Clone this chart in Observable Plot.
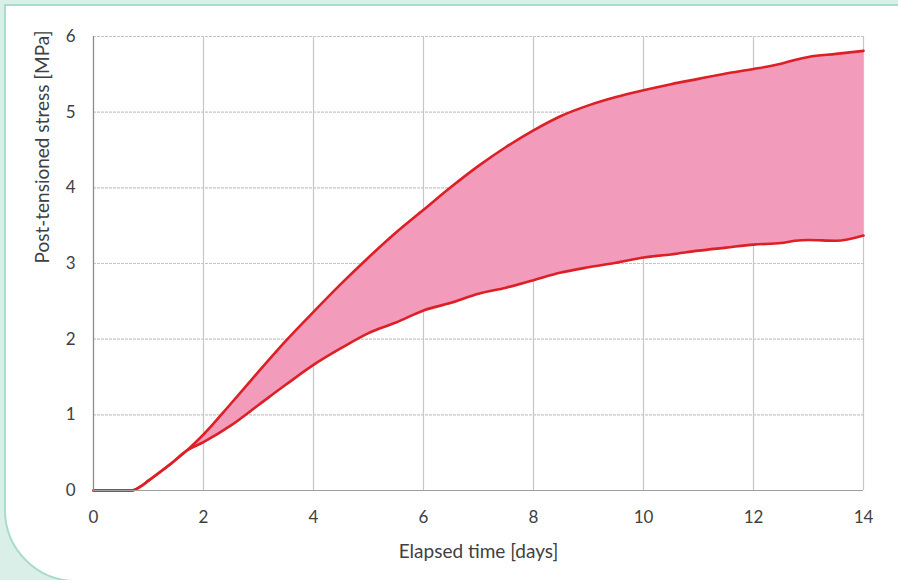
<!DOCTYPE html>
<html>
<head>
<meta charset="utf-8">
<script src="https://cdn.jsdelivr.net/npm/d3@7"></script>
<script src="https://cdn.jsdelivr.net/npm/@observablehq/plot@0.6"></script>
<style>
  html, body { margin: 0; padding: 0; }
  body { width: 898px; height: 580px; background: #d9efe8; position: relative; overflow: hidden; font-family: Lato, "Open Sans", sans-serif; }
  #panel { position: absolute; left: 4px; top: 4px; width: 960px; height: 574px; background: #fff; border: 2px solid #a9dcc9; border-bottom-left-radius: 72px; }
  #chart { position: absolute; left: 0; top: 0; }
</style>
</head>
<body>
<div id="panel"></div>
<div id="chart"></div>
<script>
const days  = [0, 0.35, 0.7, 0.85, 1.0, 1.4, 1.7, 2, 2.5, 3, 3.5, 4, 4.5, 5, 5.5, 6, 6.5, 7, 7.5, 8, 8.5, 9, 9.5, 10, 10.5, 11, 11.5, 12, 12.5, 12.75, 13, 13.5, 14];
const upper = [0, 0, 0, 0.05, 0.13, 0.35, 0.53, 0.74, 1.15, 1.57, 1.98, 2.36, 2.73, 3.08, 3.41, 3.71, 4.01, 4.29, 4.54, 4.76, 4.95, 5.09, 5.20, 5.29, 5.37, 5.44, 5.51, 5.57, 5.64, 5.69, 5.73, 5.77, 5.81];
const lower = [0, 0, 0, 0.05, 0.13, 0.35, 0.53, 0.64, 0.86, 1.13, 1.40, 1.66, 1.88, 2.08, 2.22, 2.38, 2.48, 2.60, 2.68, 2.78, 2.88, 2.95, 3.01, 3.08, 3.12, 3.17, 3.21, 3.25, 3.27, 3.30, 3.31, 3.30, 3.37];
const xTicks = [0, 2, 4, 6, 8, 10, 12, 14];
const yTicks = [0, 1, 2, 3, 4, 5, 6];

const data = days.map((d, i) => ({day: d, lo: lower[i], hi: upper[i]}));

const chart = Plot.plot({
  width: 898,
  height: 580,
  marginLeft: 93,
  marginRight: 35,
  marginTop: 36,
  marginBottom: 90,
  style: {background: "transparent", fontFamily: "Lato, 'Open Sans', sans-serif", color: "#404040"},
  x: {domain: [0, 14]},
  y: {domain: [0, 6]},
  marks: [
    Plot.gridX(xTicks, {stroke: "#c6c6c6", strokeOpacity: 1, strokeWidth: 1.2}),
    Plot.gridY(yTicks, {stroke: "#c6c6c6", strokeOpacity: 1, strokeWidth: 1.2, strokeDasharray: "3,1"}),
    Plot.areaY(data, {x: "day", y1: "lo", y2: "hi", fill: "#f29bbb", curve: "monotone-x"}),
    Plot.line(data, {x: "day", y: "hi", stroke: "#dd1f26", strokeWidth: 2.6, curve: "monotone-x"}),
    Plot.line(data, {x: "day", y: "lo", stroke: "#dd1f26", strokeWidth: 2.6, curve: "monotone-x"}),
    Plot.ruleX([0], {stroke: "#8c8c8c", strokeWidth: 1.2}),
    Plot.ruleY([0], {stroke: "#a0a0a0", strokeWidth: 1.2}),
    Plot.axisX(xTicks, {tickSize: 0, tickPadding: 20, fontSize: 17, fill: "#404040", label: null, tickFormat: d3.format("d")}),
    Plot.axisY(yTicks, {tickSize: 0, tickPadding: 18, fontSize: 17, fill: "#404040", label: null, tickFormat: d3.format("d")}),
    Plot.text(["Elapsed time [days]"], {frameAnchor: "bottom", dy: 61, fontSize: 19, fill: "#404040", lineAnchor: "middle"}),
    Plot.text(["Post-tensioned stress [MPa]"], {frameAnchor: "left", dx: -51, rotate: -90, fontSize: 19, fill: "#404040"})
  ]
});
document.getElementById("chart").appendChild(chart);
</script>
</body>
</html>
